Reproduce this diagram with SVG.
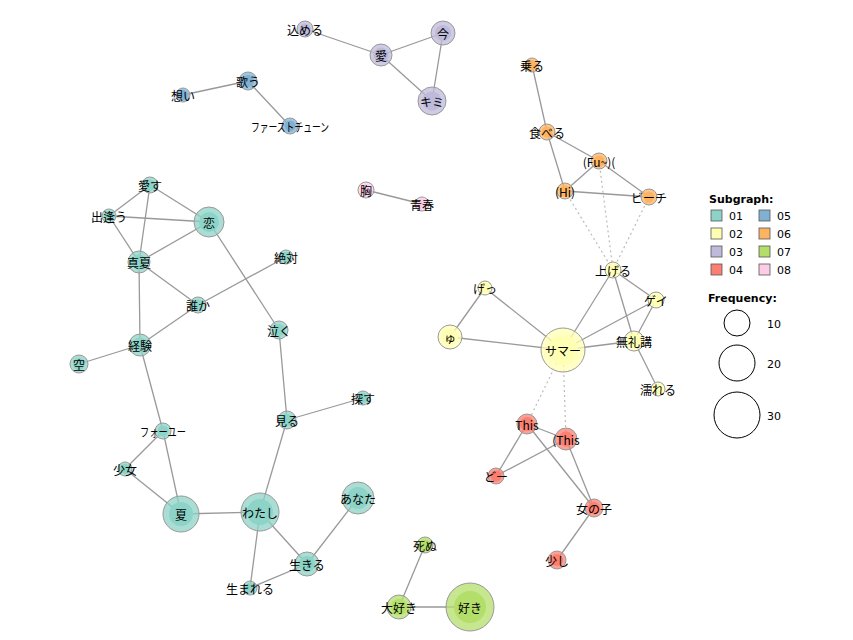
<svg xmlns="http://www.w3.org/2000/svg" width="853" height="640" viewBox="0 0 853 640">
<style>
.e{stroke:#999;stroke-width:1.3;fill:none}
.d{stroke:#bbb;stroke-width:1.2;stroke-dasharray:2,3;fill:none}
.o{stroke:#999;stroke-width:1;fill-opacity:0.75}
.i{stroke:none}
.s01{fill:#8DD3C7}.s02{fill:#FFFFB3}.s03{fill:#BEBADA}.s04{fill:#FB8072}
.s05{fill:#80B1D3}.s06{fill:#FDB462}.s07{fill:#B3DE69}.s08{fill:#FCCDE5}
text.l{font-family:"Noto Sans CJK JP","DejaVu Sans",sans-serif;font-size:12px;fill:#000;text-anchor:middle;dominant-baseline:central}
.lg{font-family:"DejaVu Sans",sans-serif;font-size:11px;fill:#000}
.lgb{font-family:"DejaVu Sans",sans-serif;font-size:11px;font-weight:bold;fill:#000}
.sq{stroke:#555;stroke-width:0.8}
.fc{fill:none;stroke:#000;stroke-width:1}
</style>
<rect width="853" height="640" fill="#fff"/>
<g id="edges">
<line class="e" x1="305" y1="29" x2="381" y2="55"/>
<line class="e" x1="381" y1="55" x2="443" y2="33"/>
<line class="e" x1="381" y1="55" x2="432" y2="101"/>
<line class="e" x1="443" y1="33" x2="432" y2="101"/>
<line class="e" x1="183" y1="95" x2="248" y2="81"/>
<line class="e" x1="248" y1="81" x2="290" y2="126"/>
<line class="e" x1="532" y1="65" x2="547" y2="132"/>
<line class="e" x1="547" y1="132" x2="565" y2="191"/>
<line class="e" x1="547" y1="132" x2="599" y2="161"/>
<line class="e" x1="599" y1="161" x2="565" y2="191"/>
<line class="e" x1="599" y1="161" x2="649" y2="197"/>
<line class="e" x1="565" y1="191" x2="649" y2="197"/>
<line class="e" x1="366" y1="190" x2="422" y2="204"/>
<line class="d" x1="565" y1="191" x2="613" y2="270"/>
<line class="d" x1="599" y1="161" x2="613" y2="270"/>
<line class="d" x1="649" y1="197" x2="613" y2="270"/>
<line class="e" x1="485" y1="288" x2="450" y2="337"/>
<line class="e" x1="485" y1="288" x2="563" y2="350"/>
<line class="e" x1="450" y1="337" x2="563" y2="350"/>
<line class="e" x1="563" y1="350" x2="613" y2="270"/>
<line class="e" x1="563" y1="350" x2="656" y2="300"/>
<line class="e" x1="563" y1="350" x2="634" y2="341"/>
<line class="e" x1="613" y1="270" x2="656" y2="300"/>
<line class="e" x1="613" y1="270" x2="634" y2="341"/>
<line class="e" x1="656" y1="300" x2="634" y2="341"/>
<line class="e" x1="634" y1="341" x2="658" y2="389"/>
<line class="d" x1="563" y1="350" x2="527" y2="424"/>
<line class="d" x1="563" y1="350" x2="566" y2="439"/>
<line class="e" x1="527" y1="424" x2="566" y2="439"/>
<line class="e" x1="527" y1="424" x2="496" y2="476"/>
<line class="e" x1="527" y1="424" x2="594" y2="508"/>
<line class="e" x1="566" y1="439" x2="496" y2="476"/>
<line class="e" x1="566" y1="439" x2="594" y2="508"/>
<line class="e" x1="594" y1="508" x2="557" y2="560"/>
<line class="e" x1="150" y1="185" x2="109" y2="216"/>
<line class="e" x1="150" y1="185" x2="139" y2="262"/>
<line class="e" x1="150" y1="185" x2="209" y2="222"/>
<line class="e" x1="109" y1="216" x2="209" y2="222"/>
<line class="e" x1="109" y1="216" x2="139" y2="262"/>
<line class="e" x1="209" y1="222" x2="139" y2="262"/>
<line class="e" x1="209" y1="222" x2="279" y2="330"/>
<line class="e" x1="139" y1="262" x2="198" y2="305"/>
<line class="e" x1="139" y1="262" x2="140" y2="345"/>
<line class="e" x1="198" y1="305" x2="286" y2="257"/>
<line class="e" x1="198" y1="305" x2="140" y2="345"/>
<line class="e" x1="140" y1="345" x2="79" y2="364"/>
<line class="e" x1="140" y1="345" x2="163" y2="431"/>
<line class="e" x1="279" y1="330" x2="287" y2="420"/>
<line class="e" x1="287" y1="420" x2="363" y2="398"/>
<line class="e" x1="287" y1="420" x2="260" y2="512"/>
<line class="e" x1="163" y1="431" x2="125" y2="469"/>
<line class="e" x1="163" y1="431" x2="181" y2="514"/>
<line class="e" x1="125" y1="469" x2="181" y2="514"/>
<line class="e" x1="181" y1="514" x2="260" y2="512"/>
<line class="e" x1="260" y1="512" x2="307" y2="564"/>
<line class="e" x1="260" y1="512" x2="250" y2="588"/>
<line class="e" x1="307" y1="564" x2="250" y2="588"/>
<line class="e" x1="307" y1="564" x2="358" y2="498"/>
<line class="e" x1="425" y1="545" x2="399" y2="607"/>
<line class="e" x1="399" y1="607" x2="470" y2="607"/>
</g>
<g id="n-komeru"><circle class="o s03" cx="305" cy="29" r="8"/><circle class="i s03" cx="305" cy="29" r="5.5"/><text class="l" x="305" y="29">込める</text></g>
<g id="n-ai"><circle class="o s03" cx="381" cy="55" r="11"/><circle class="i s03" cx="381" cy="55" r="7.5"/><text class="l" x="381" y="55">愛</text></g>
<g id="n-ima"><circle class="o s03" cx="443" cy="33" r="12"/><circle class="i s03" cx="443" cy="33" r="8"/><text class="l" x="443" y="33">今</text></g>
<g id="n-kimi"><circle class="o s03" cx="432" cy="101" r="14"/><circle class="i s03" cx="432" cy="101" r="9.5"/><text class="l" x="432" y="101">キミ</text></g>
<g id="n-omoi"><circle class="o s05" cx="183" cy="95" r="7"/><circle class="i s05" cx="183" cy="95" r="5"/><text class="l" x="183" y="95">想い</text></g>
<g id="n-utau"><circle class="o s05" cx="248" cy="81" r="9"/><circle class="i s05" cx="248" cy="81" r="6"/><text class="l" x="248" y="81">歌う</text></g>
<g id="n-first"><circle class="o s05" cx="290" cy="126" r="8"/><circle class="i s05" cx="290" cy="126" r="5.5"/><text class="l" x="290" y="126" textLength="78" lengthAdjust="spacingAndGlyphs">ファーストチューン</text></g>
<g id="n-noru"><circle class="o s06" cx="532" cy="65" r="7"/><circle class="i s06" cx="532" cy="65" r="5"/><text class="l" x="532" y="65">乗る</text></g>
<g id="n-taberu"><circle class="o s06" cx="547" cy="132" r="8"/><circle class="i s06" cx="547" cy="132" r="5.5"/><text class="l" x="547" y="132">食べる</text></g>
<g id="n-fu"><circle class="o s06" cx="599" cy="161" r="8"/><circle class="i s06" cx="599" cy="161" r="5.5"/><text class="l" x="599" y="161">(Fu~)(</text></g>
<g id="n-hi"><circle class="o s06" cx="565" cy="191" r="8"/><circle class="i s06" cx="565" cy="191" r="5.5"/><text class="l" x="565" y="191">(Hi)</text></g>
<g id="n-beach"><circle class="o s06" cx="649" cy="197" r="8"/><circle class="i s06" cx="649" cy="197" r="5.5"/><text class="l" x="649" y="197">ビーチ</text></g>
<g id="n-mune"><circle class="o s08" cx="366" cy="190" r="8"/><circle class="i s08" cx="366" cy="190" r="5.5"/><text class="l" x="366" y="190">胸</text></g>
<g id="n-seishun"><circle class="o s08" cx="422" cy="204" r="7"/><circle class="i s08" cx="422" cy="204" r="5"/><text class="l" x="422" y="204">青春</text></g>
<g id="n-ageru"><circle class="o s02" cx="613" cy="270" r="8"/><circle class="i s02" cx="613" cy="270" r="5.5"/><text class="l" x="613" y="270">上げる</text></g>
<g id="n-ge"><circle class="o s02" cx="485" cy="288" r="7"/><circle class="i s02" cx="485" cy="288" r="5"/><text class="l" x="485" y="288">げっ</text></g>
<g id="n-gay"><circle class="o s02" cx="656" cy="300" r="8"/><circle class="i s02" cx="656" cy="300" r="5.5"/><text class="l" x="656" y="300">ゲイ</text></g>
<g id="n-yu"><circle class="o s02" cx="450" cy="337" r="12"/><circle class="i s02" cx="450" cy="337" r="8"/><text class="l" x="450" y="337">ゅ</text></g>
<g id="n-summer"><circle class="o s02" cx="563" cy="350" r="22"/><circle class="i s02" cx="563" cy="350" r="15"/><text class="l" x="563" y="350">サマー</text></g>
<g id="n-bureiko"><circle class="o s02" cx="634" cy="341" r="10"/><circle class="i s02" cx="634" cy="341" r="7"/><text class="l" x="634" y="341">無礼講</text></g>
<g id="n-nureru"><circle class="o s02" cx="658" cy="389" r="7"/><circle class="i s02" cx="658" cy="389" r="5"/><text class="l" x="658" y="389">濡れる</text></g>
<g id="n-this"><circle class="o s04" cx="527" cy="424" r="10"/><circle class="i s04" cx="527" cy="424" r="7"/><text class="l" x="527" y="424">This</text></g>
<g id="n-pthis"><circle class="o s04" cx="566" cy="439" r="11"/><circle class="i s04" cx="566" cy="439" r="7.5"/><text class="l" x="566" y="439">(This</text></g>
<g id="n-do"><circle class="o s04" cx="496" cy="476" r="8"/><circle class="i s04" cx="496" cy="476" r="5.5"/><text class="l" x="496" y="476">どー</text></g>
<g id="n-onnanoko"><circle class="o s04" cx="594" cy="508" r="9"/><circle class="i s04" cx="594" cy="508" r="6"/><text class="l" x="594" y="508">女の子</text></g>
<g id="n-sukoshi"><circle class="o s04" cx="557" cy="560" r="9"/><circle class="i s04" cx="557" cy="560" r="6"/><text class="l" x="557" y="560">少し</text></g>
<g id="n-aisu"><circle class="o s01" cx="150" cy="185" r="8"/><circle class="i s01" cx="150" cy="185" r="5.5"/><text class="l" x="150" y="185">愛す</text></g>
<g id="n-deau"><circle class="o s01" cx="109" cy="216" r="7"/><circle class="i s01" cx="109" cy="216" r="5"/><text class="l" x="109" y="216">出逢う</text></g>
<g id="n-koi"><circle class="o s01" cx="209" cy="222" r="15"/><circle class="i s01" cx="209" cy="222" r="10"/><text class="l" x="209" y="222">恋</text></g>
<g id="n-manatsu"><circle class="o s01" cx="139" cy="262" r="11"/><circle class="i s01" cx="139" cy="262" r="7.5"/><text class="l" x="139" y="262">真夏</text></g>
<g id="n-zettai"><circle class="o s01" cx="286" cy="257" r="7"/><circle class="i s01" cx="286" cy="257" r="5"/><text class="l" x="286" y="257">絶対</text></g>
<g id="n-dareka"><circle class="o s01" cx="198" cy="305" r="8"/><circle class="i s01" cx="198" cy="305" r="5.5"/><text class="l" x="198" y="305">誰か</text></g>
<g id="n-naku"><circle class="o s01" cx="279" cy="330" r="9"/><circle class="i s01" cx="279" cy="330" r="6"/><text class="l" x="279" y="330">泣く</text></g>
<g id="n-keiken"><circle class="o s01" cx="140" cy="345" r="11"/><circle class="i s01" cx="140" cy="345" r="7.5"/><text class="l" x="140" y="345">経験</text></g>
<g id="n-sora"><circle class="o s01" cx="79" cy="364" r="9"/><circle class="i s01" cx="79" cy="364" r="6"/><text class="l" x="79" y="364">空</text></g>
<g id="n-sagasu"><circle class="o s01" cx="363" cy="398" r="7"/><circle class="i s01" cx="363" cy="398" r="5"/><text class="l" x="363" y="398">探す</text></g>
<g id="n-miru"><circle class="o s01" cx="287" cy="420" r="9"/><circle class="i s01" cx="287" cy="420" r="6"/><text class="l" x="287" y="420">見る</text></g>
<g id="n-foryou"><circle class="o s01" cx="163" cy="431" r="8"/><circle class="i s01" cx="163" cy="431" r="5.5"/><text class="l" x="163" y="431" textLength="46" lengthAdjust="spacingAndGlyphs">フォーユー</text></g>
<g id="n-shojo"><circle class="o s01" cx="125" cy="469" r="7"/><circle class="i s01" cx="125" cy="469" r="5"/><text class="l" x="125" y="469">少女</text></g>
<g id="n-natsu"><circle class="o s01" cx="181" cy="514" r="18"/><circle class="i s01" cx="181" cy="514" r="12"/><text class="l" x="181" y="514">夏</text></g>
<g id="n-watashi"><circle class="o s01" cx="260" cy="512" r="19"/><circle class="i s01" cx="260" cy="512" r="13"/><text class="l" x="260" y="512">わたし</text></g>
<g id="n-anata"><circle class="o s01" cx="358" cy="498" r="16"/><circle class="i s01" cx="358" cy="498" r="11"/><text class="l" x="358" y="498">あなた</text></g>
<g id="n-ikiru"><circle class="o s01" cx="307" cy="564" r="12"/><circle class="i s01" cx="307" cy="564" r="8"/><text class="l" x="307" y="564">生きる</text></g>
<g id="n-umareru"><circle class="o s01" cx="250" cy="588" r="7"/><circle class="i s01" cx="250" cy="588" r="5"/><text class="l" x="250" y="588">生まれる</text></g>
<g id="n-shinu"><circle class="o s07" cx="425" cy="545" r="8"/><circle class="i s07" cx="425" cy="545" r="5.5"/><text class="l" x="425" y="545">死ぬ</text></g>
<g id="n-daisuki"><circle class="o s07" cx="399" cy="607" r="12"/><circle class="i s07" cx="399" cy="607" r="8"/><text class="l" x="399" y="607">大好き</text></g>
<g id="n-suki"><circle class="o s07" cx="470" cy="607" r="24"/><circle class="i s07" cx="470" cy="607" r="16"/><text class="l" x="470" y="607">好き</text></g>
<g id="legend">
<text class="lgb" x="709" y="203">Subgraph:</text>
<rect class="sq s01" x="711" y="210" width="11" height="11"/><text class="lg" x="729" y="220">01</text>
<rect class="sq s02" x="711" y="228" width="11" height="11"/><text class="lg" x="729" y="238">02</text>
<rect class="sq s03" x="711" y="246" width="11" height="11"/><text class="lg" x="729" y="256">03</text>
<rect class="sq s04" x="711" y="264" width="11" height="11"/><text class="lg" x="729" y="274">04</text>
<rect class="sq s05" x="759" y="210" width="11" height="11"/><text class="lg" x="777" y="220">05</text>
<rect class="sq s06" x="759" y="228" width="11" height="11"/><text class="lg" x="777" y="238">06</text>
<rect class="sq s07" x="759" y="246" width="11" height="11"/><text class="lg" x="777" y="256">07</text>
<rect class="sq s08" x="759" y="264" width="11" height="11"/><text class="lg" x="777" y="274">08</text>
<text class="lgb" x="708" y="302">Frequency:</text>
<circle class="fc" cx="737" cy="323" r="13"/><text class="lg" x="767" y="328">10</text>
<circle class="fc" cx="737" cy="363" r="18"/><text class="lg" x="767" y="368">20</text>
<circle class="fc" cx="737" cy="415" r="23"/><text class="lg" x="767" y="420">30</text>
</g>
</svg>
